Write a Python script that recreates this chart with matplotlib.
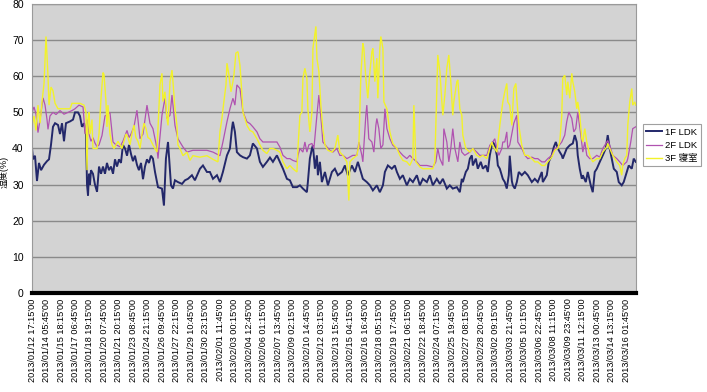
"""
plot.py
-------
Humidity by floor (1F LDK / 2F LDK / 3F 寝室), 2013/01/12 – 2013/03/16.
Excel-style line chart on a gray plot area, 15-minute samples on the x axis.
"""

import matplotlib
matplotlib.use("Agg")
import matplotlib.pyplot as plt

# ── data (x = 15-minute sample index from 2013/01/12 17:15, y = humidity %) ──
SERIES_NAMES = ["1F LDK", "2F LDK", "3F 寝室"]

F1_IDX = [0, 10, 30, 50, 70, 91, 121, 151, 171, 191, 211, 232, 262, 282, 302, 322, 342, 383, 413, 433,
          463, 483, 503, 524, 544, 554, 564, 574, 584, 594, 614, 634, 655, 675, 695, 715, 735, 755, 775, 796,
          816, 836, 856, 876, 896, 916, 937, 957, 977, 997, 1017, 1037, 1057, 1077, 1098, 1118, 1138, 1158,
          1178, 1198, 1218, 1239, 1269, 1309, 1329, 1349, 1370, 1400, 1420, 1440, 1470, 1511, 1541, 1571,
          1611, 1641, 1692, 1722, 1762, 1792, 1823, 1863, 1893, 1923, 1964, 1994, 2014, 2024, 2044, 2064,
          2095, 2125, 2165, 2195, 2225, 2266, 2296, 2326, 2366, 2397, 2427, 2467, 2497, 2528, 2568, 2598,
          2628, 2669, 2699, 2729, 2769, 2779, 2799, 2820, 2830, 2850, 2870, 2880, 2900, 2920, 2951, 2981,
          3021, 3051, 3081, 3122, 3152, 3182, 3222, 3253, 3283, 3303, 3333, 3373, 3404, 3434, 3474, 3504,
          3535, 3555, 3585, 3625, 3655, 3676, 3706, 3736, 3776, 3806, 3837, 3877, 3907, 3937, 3978, 4008,
          4038, 4078, 4109, 4139, 4179, 4209, 4239, 4280, 4310, 4330, 4340, 4370, 4391, 4411, 4431, 4441,
          4471, 4491, 4521, 4542, 4572, 4592, 4612, 4632, 4642, 4662, 4683, 4693, 4713, 4743, 4763, 4783,
          4803, 4813, 4834, 4844, 4864, 4884, 4904, 4934, 4965, 4995, 5035, 5065, 5095, 5136, 5146, 5186,
          5206, 5236, 5257, 5277, 5297, 5317, 5337, 5347, 5387, 5418, 5448, 5468, 5488, 5498, 5518, 5539,
          5549, 5579, 5599, 5629, 5649, 5669, 5690, 5720, 5750, 5780, 5800, 5820, 5841, 5861, 5891, 5911,
          5941, 5961, 5992, 6012, 6042, 6062, 6082]
F1_VAL = [40, 37, 38, 31, 36, 34, 35.5, 36.5, 37, 41, 46, 47, 46.5, 44, 47, 42, 47, 47.5, 48, 50,
          50, 49, 46, 47, 44, 30, 27, 33, 30, 34, 33, 30, 28, 35, 33, 35, 33, 36, 34, 35,
          33, 37, 35, 37, 36, 41, 40, 38, 41, 38.5, 36.5, 38, 35.5, 34, 36, 31.5, 35, 37,
          36, 38, 37.2, 33.5, 29.3, 28.9, 24.2, 37.2, 41.8, 29.8, 28.9, 31.2, 30.7, 30.2, 31.2, 31.6,
          32.6, 31.2, 34.4, 35.3, 33.5, 33.5, 31.6, 32.6, 30.7, 33.5, 38.1, 40, 45.5, 47.4, 44.6, 39,
          38.1, 37.6, 37.2, 38.1, 41.4, 40, 36.3, 34.9, 36.3, 37.5, 36.3, 38.1, 36.3, 34.4, 31.6, 31.2,
          29.3, 29.3, 29.8, 28.9, 27.9, 30.7, 37.2, 40, 40.9, 34.4, 38.1, 32.6, 36.3, 30.7, 33.5, 29.8,
          33.5, 34.4, 32.6, 33.5, 35.3, 32.6, 35.3, 33.5, 36.3, 34.4, 31.6, 30.7, 29.8, 28.4, 29.8, 27.9,
          29.8, 33.5, 35.3, 34.4, 35.3, 33.5, 31.6, 32.6, 29.8, 31.6, 30.7, 32.6, 29.8, 31.6, 30.7, 32.6,
          29.8, 31.6, 30.2, 31.6, 28.9, 29.8, 28.9, 29.3, 27.9, 31.6, 30.7, 33.5, 34.4, 37.2, 38.1, 35.3,
          37.2, 34.4, 36.3, 34.4, 35.3, 33.5, 38.1, 40.9, 41.8, 40.9, 38.1, 35.3, 34.4, 31.6, 30.7, 28.9,
          32.6, 38, 31, 29.8, 28.9, 30.7, 33.5, 32.6, 33.5, 32.6, 30.7, 31.6, 30.7, 33.5, 30.7, 32.6,
          36.3, 38.1, 40.4, 41.8, 40, 39, 38.1, 37.2, 40, 40.9, 41.4, 43.7, 41.8, 38.1, 34.4, 31.6,
          32.6, 30.7, 33.5, 29.8, 27.9, 33.5, 34.4, 36.3, 38.1, 40, 43.7, 40, 37.2, 34.4, 33.5, 30.7,
          29.8, 30.7, 33.5, 35.3, 34.4, 37.2, 36.3]

F2_IDX = [0, 20, 40, 60, 81, 111, 131, 151, 161, 181, 211, 242, 282, 322, 363, 403, 433, 473, 514, 534,
          554, 574, 594, 614, 634, 655, 675, 705, 735, 765, 785, 816, 846, 886, 916, 937, 957, 977, 997,
          1027, 1057, 1088, 1118, 1138, 1158, 1188, 1218, 1259, 1269, 1309, 1339, 1359, 1390, 1410, 1440,
          1470, 1521, 1561, 1621, 1692, 1762, 1823, 1893, 1923, 1964, 1994, 2024, 2044, 2064, 2095, 2125,
          2165, 2195, 2225, 2266, 2296, 2326, 2397, 2467, 2497, 2528, 2568, 2598, 2628, 2669, 2679, 2699,
          2729, 2749, 2769, 2789, 2820, 2840, 2870, 2890, 2920, 2930, 2971, 3001, 3031, 3071, 3101, 3132,
          3172, 3232, 3273, 3293, 3323, 3333, 3363, 3373, 3393, 3424, 3444, 3464, 3474, 3494, 3514, 3535,
          3555, 3575, 3605, 3635, 3676, 3706, 3736, 3776, 3806, 3837, 3877, 3907, 3978, 4038, 4068, 4088,
          4109, 4139, 4149, 4179, 4199, 4219, 4239, 4260, 4290, 4310, 4330, 4360, 4411, 4441, 4481, 4511,
          4582, 4612, 4642, 4662, 4683, 4703, 4733, 4743, 4763, 4783, 4793, 4813, 4834, 4854, 4884, 4894,
          4934, 4965, 4995, 5035, 5065, 5095, 5136, 5166, 5196, 5236, 5267, 5297, 5337, 5367, 5387, 5408,
          5438, 5458, 5478, 5498, 5529, 5549, 5569, 5589, 5619, 5649, 5690, 5720, 5750, 5790, 5800, 5820,
          5851, 5891, 5921, 5951, 5992, 6002, 6032, 6052, 6082]
F2_VAL = [50, 51.5, 49.5, 44.4, 48, 54, 52, 48, 45.3, 49, 50, 49.4, 50.5, 49.5, 50, 50.5, 51, 52, 51.5, 44,
          48, 44, 42, 43, 41.5, 40.5, 41, 43.6, 49, 49.5, 50, 41.8, 41, 40.5, 42, 43.5, 45, 43, 44,
          46, 50.6, 42.7, 44, 48, 52, 47, 45.5, 40, 37.2, 49.2, 53.9, 48.3, 49.2, 54.8, 46.4,
          42.7, 40.4, 39, 39.5, 39.5, 39.5, 39, 38, 41.8, 47.4, 51, 53.9, 52, 57.6, 56.6, 50.1,
          47.4, 46.9, 46, 44.6, 42.7, 41.8, 41.8, 41.8, 40.4, 38.1, 37.2, 37.2, 36.7, 36.3, 38.1, 40,
          39, 41.8, 39, 41, 41.4, 40, 49.2, 54.8, 45.5, 41.8, 40.4, 39.5, 39, 40, 38.1, 38.1,
          37.2, 38.1, 38.1, 41.8, 38.1, 36.3, 49.2, 52, 42.7, 41.8, 39, 46.4, 48.3, 45.5, 40, 41,
          51, 45.5, 42.7, 40.9, 40, 39, 38.1, 37.2, 38.1, 37.2, 36.3, 35.3, 35.3, 34.9, 36.3, 40,
          37.2, 35.3, 45.5, 41.8, 36.3, 40, 45.5, 40, 36.3, 41.8, 39, 38.1, 39, 40, 39, 38.1,
          38.1, 40.9, 41.8, 42.7, 40, 38.1, 40, 41.8, 41.8, 44.6, 40, 41, 44, 47, 49.2, 41.8,
          40, 38.1, 37.2, 37.6, 37.2, 37.2, 36.3, 36.3, 37.2, 38.1, 40, 40.4, 41.8, 43.7, 47.4, 50.1,
          48.3, 44.6, 45.5, 50.1, 43.7, 39, 41.8, 38.1, 37.2, 37.2, 38.1, 37.6, 40, 41.8, 42.2, 40.9,
          38.1, 37.2, 36.3, 35.3, 36.3, 37.2, 41.8, 45.5, 46]

F3_IDX = [0, 20, 40, 60, 81, 101, 121, 141, 161, 171, 191, 211, 232, 262, 302, 342, 383, 403, 443, 483,
          524, 544, 554, 564, 574, 584, 604, 614, 634, 655, 675, 695, 715, 725, 745, 755, 765, 785, 806,
          826, 846, 866, 886, 906, 926, 947, 967, 987, 1007, 1027, 1047, 1067, 1088, 1108, 1128, 1148,
          1168, 1188, 1218, 1259, 1269, 1289, 1309, 1319, 1339, 1359, 1370, 1390, 1410, 1420, 1440, 1460,
          1470, 1490, 1521, 1561, 1591, 1621, 1692, 1762, 1823, 1873, 1893, 1913, 1933, 1954, 1964, 1984,
          2004, 2024, 2034, 2054, 2075, 2095, 2115, 2125, 2165, 2195, 2225, 2266, 2296, 2326, 2366, 2397,
          2427, 2467, 2497, 2528, 2568, 2598, 2628, 2669, 2679, 2699, 2719, 2729, 2749, 2769, 2779, 2799,
          2820, 2830, 2860, 2870, 2890, 2910, 2930, 2951, 2981, 3021, 3051, 3081, 3101, 3132, 3172, 3192,
          3202, 3232, 3273, 3293, 3313, 3333, 3343, 3363, 3383, 3404, 3424, 3434, 3454, 3474, 3484, 3504,
          3514, 3535, 3545, 3575, 3605, 3635, 3676, 3706, 3736, 3776, 3806, 3837, 3847, 3867, 3907, 3937,
          3978, 4038, 4058, 4078, 4088, 4109, 4129, 4139, 4159, 4179, 4199, 4219, 4239, 4249, 4280, 4290,
          4310, 4330, 4340, 4370, 4411, 4441, 4481, 4511, 4542, 4582, 4612, 4632, 4642, 4683, 4713, 4743,
          4763, 4783, 4793, 4813, 4834, 4854, 4874, 4884, 4904, 4934, 4965, 4995, 5035, 5065, 5095, 5136,
          5166, 5196, 5236, 5267, 5297, 5317, 5337, 5347, 5367, 5387, 5398, 5418, 5438, 5448, 5468, 5488,
          5498, 5518, 5539, 5549, 5569, 5589, 5619, 5649, 5690, 5720, 5750, 5790, 5800, 5820, 5851, 5891,
          5921, 5941, 5951, 5972, 5992, 6002, 6022, 6042, 6052, 6072, 6082]
F3_VAL = [46, 49, 45, 52, 47, 53, 58, 71, 60, 52, 57, 56, 52.5, 51, 51, 51, 51, 52.5, 52.5, 52.5,
          52, 50, 34, 48, 50, 44, 48, 40, 40, 40, 44, 54, 61, 60.5, 53, 46, 52, 44, 41,
          40, 41, 42, 41, 40, 42, 44, 43, 41, 44, 46.5, 43, 42, 40, 44, 47, 45.5,
          43, 42.7, 41, 39, 45.5, 57.6, 60.8, 53, 55.7, 48.3, 46.4, 58.5, 61.7, 58.5, 51, 46.4,
          41, 40, 38, 39, 36.7, 38, 37.6, 38, 37, 36.3, 44.6, 48.3, 53, 57.6, 63.6, 60.3,
          55.7, 58.5, 60.3, 66.4, 66.8, 63, 54.8, 50.1, 46.4, 45, 44.6, 42.7, 41, 39.5, 38.6, 40,
          40, 39.5, 39, 36.3, 34.4, 35.3, 34.4, 33.5, 40, 49.2, 50.1, 59.4, 62.2, 59.4, 51, 44.6,
          50.1, 67.7, 73.8, 65, 61.3, 52, 45.5, 41, 39.5, 39, 40, 43.7, 39, 38.1, 36.3, 25.6,
          36.3, 37.2, 38.1, 41, 60.3, 69.1, 67.7, 59.4, 53.9, 61.3, 66.8, 67.7, 58.5, 65, 53.9, 67.7,
          71, 67.7, 52.9, 51, 44.6, 41.4, 40, 38.1, 36.7, 36.3, 35.3, 37.2, 52, 36.3, 34.9, 34.4,
          34.4, 34.4, 36.3, 55.7, 65.9, 61.3, 52.9, 49.2, 54.8, 62.2, 65.9, 58.5, 49.2, 52.9, 58.5, 59,
          51, 49.2, 43.7, 40, 39, 40, 38.1, 37.6, 38.1, 37.2, 40, 41.8, 40.9, 39, 46.4, 52.9,
          55.7, 58, 52.9, 52, 46.4, 56.6, 58, 53.9, 46.4, 40.9, 38.1, 38.1, 37.2, 36.3, 36.3, 35.3,
          35.3, 36.3, 37.6, 39.5, 40, 41.8, 49.2, 59.4, 60.3, 54.8, 58.5, 53.9, 60.8, 58.5, 55.7, 51,
          52.9, 49.2, 42.7, 41.8, 45.5, 41.8, 38.1, 36.3, 37.2, 37.2, 39, 40.4, 41.4, 40, 38.1, 36.3,
          35.3, 32.6, 35.3, 37.2, 38.1, 46.4, 52.9, 56.6, 52, 52.9, 52]

# category labels, one every 146 samples (36.5 h)
TICK_STEP = 146
TICK_LABELS = [
    "2013/01/12 17:15'00", "2013/01/14 05:45'00", "2013/01/15 18:15'00", "2013/01/17 06:45'00",
    "2013/01/18 19:15'00", "2013/01/20 07:45'00", "2013/01/21 20:15'00", "2013/01/23 08:45'00",
    "2013/01/24 21:15'00", "2013/01/26 09:45'00", "2013/01/27 22:15'00", "2013/01/29 10:45'00",
    "2013/01/30 23:15'00", "2013/02/01 11:45'00", "2013/02/03 00:15'00", "2013/02/04 12:45'00",
    "2013/02/06 01:15'00", "2013/02/07 13:45'00", "2013/02/09 02:15'00", "2013/02/10 14:45'00",
    "2013/02/12 03:15'00", "2013/02/13 15:45'00", "2013/02/15 04:15'00", "2013/02/16 16:45'00",
    "2013/02/18 05:15'00", "2013/02/19 17:45'00", "2013/02/21 06:15'00", "2013/02/22 18:45'00",
    "2013/02/24 07:15'00", "2013/02/25 19:45'00", "2013/02/27 08:15'00", "2013/02/28 20:45'00",
    "2013/03/02 09:15'00", "2013/03/03 21:45'00", "2013/03/05 10:15'00", "2013/03/06 22:45'00",
    "2013/03/08 11:15'00", "2013/03/09 23:45'00", "2013/03/11 12:15'00", "2013/03/13 00:45'00",
    "2013/03/14 13:15'00", "2013/03/16 01:45'00",
]
Y_TICKS = [0, 10, 20, 30, 40, 50, 60, 70, 80]

# ── palette ───────────────────────────────────────────────────────────────────
COLORS = ["#23286a", "#b052b0", "#f2f22a"]
WIDTHS = [1.4, 0.9, 1.0]
FONT = ["Liberation Sans", "Noto Sans CJK JP"]


def main():
    plt.rcParams["font.family"] = FONT

    fig = plt.figure(figsize=(7.07, 3.92), dpi=100)
    ax = fig.add_axes([0.0453, 0.2526, 0.8543, 0.7372])
    ax.set_facecolor("#d3d3d3")

    # ── gridlines ────────────────────────────────────────────────────────────
    ax.set_yticks(Y_TICKS)
    ax.yaxis.grid(True, color="#8a8a8a", linewidth=1.0)
    ax.set_axisbelow(True)

    # ── series ───────────────────────────────────────────────────────────────
    data = [(F1_IDX, F1_VAL), (F2_IDX, F2_VAL), (F3_IDX, F3_VAL)]
    for (xs, ys), name, c, lw in zip(data, SERIES_NAMES, COLORS, WIDTHS):
        ax.plot(xs, ys, color=c, linewidth=lw, label=name, solid_joinstyle="miter")

    ax.set_xlim(0, 6085)
    ax.set_ylim(0, 80)

    # ── axes styling ─────────────────────────────────────────────────────────
    for side in ["top", "right", "left"]:
        ax.spines[side].set_color("#9a9a9a")
        ax.spines[side].set_linewidth(0.8)
    ax.spines["bottom"].set_color("black")
    ax.spines["bottom"].set_linewidth(3.0)

    ax.set_xticks([i * TICK_STEP for i in range(len(TICK_LABELS))])
    ax.set_xticklabels(TICK_LABELS, rotation=90, fontsize=6.6, va="top", ha="center")
    ax.tick_params(axis="x", length=0, pad=4)
    ax.tick_params(axis="y", length=0, pad=6, labelsize=7.5)

    ax.set_ylabel("湿度(%)", fontsize=6.5)
    ax.yaxis.set_label_coords(-0.038, 0.42)

    # ── legend ───────────────────────────────────────────────────────────────
    leg = fig.legend(
        *ax.get_legend_handles_labels(),
        loc="upper left", bbox_to_anchor=(0.909, 0.683),
        fontsize=6.8, frameon=True, fancybox=False,
        handlelength=1.7, handletextpad=0.3, borderpad=0.35,
        borderaxespad=0.0, labelspacing=0.45,
    )
    leg.get_frame().set_edgecolor("#888888")
    leg.get_frame().set_linewidth(0.8)

    fig.savefig("out.png", dpi=100)
    plt.close(fig)


if __name__ == "__main__":
    main()
